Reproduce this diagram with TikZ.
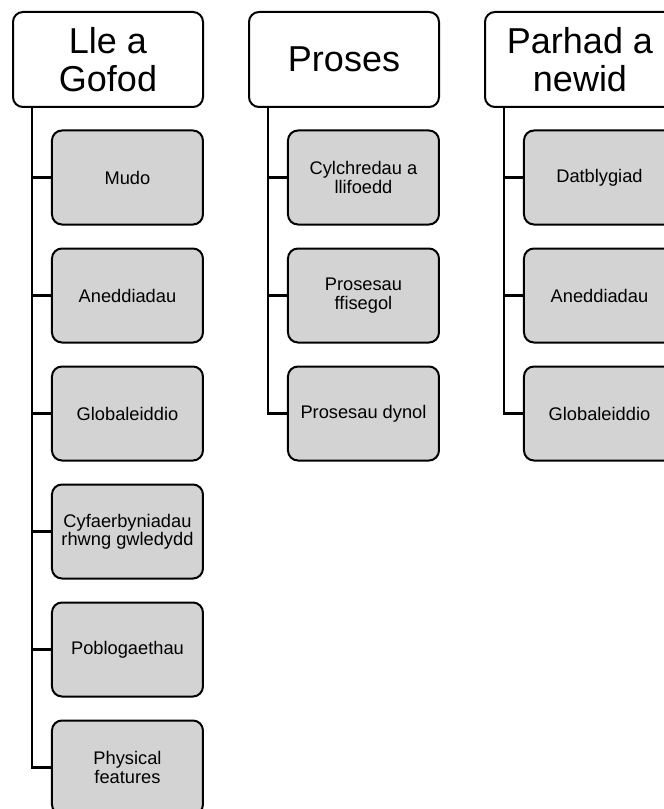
\documentclass[tikz,border=0pt]{standalone}
\usepackage{fontspec}
\setmainfont{Liberation Sans}
\usetikzlibrary{positioning}
\definecolor{boxgray}{RGB}{211,211,211}

\begin{document}
\begin{tikzpicture}
  [
  x=0.75pt, y=-0.75pt,
  node distance = 88.5pt, on grid,
  topic/.style={draw, line width=1.5pt, fill=white, rounded corners=7.5pt, align=center,
    minimum width=142.5pt, minimum height=71.25pt, inner sep=0pt,
    font=\fontsize{27}{28.5}\selectfont},
  subtopic/.style={draw, line width=1.5pt, fill=boxgray, rounded corners=7.5pt, align=center,
    minimum width=113.25pt, minimum height=70.5pt, inner sep=0pt,
    font=\fontsize{13.7}{13.8}\selectfont},
  link/.style={line width=1.7pt}
  ]
  \useasboundingbox (0,0) rectangle (663,809);

  \node[topic]                     (lle)      at (108,59.5)                  {Lle a\\Gofod};
  \node[topic]                     (proses)   [right=177pt of lle]           {Proses};
  \node[topic]                     (parhad)   [right=177pt of proses]        {Parhad a\\newid};

  % Lle a Gofod
  \node[subtopic]                  (mudo)     [below=of lle, xshift=14.6pt]  {Mudo};
  \node[subtopic]                  (aned)     [below=of mudo]                {Aneddiadau};
  \node[subtopic]                  (glob)     [below=of aned]                {Globaleiddio};
  \node[subtopic]                  (cyfaer)   [below=of glob]                {Cyfaerbyniadau\\rhwng gwledydd};
  \node[subtopic]                  (poblog)   [below=of cyfaer]              {Poblogaethau};
  \node[subtopic]                  (phys)     [below=of poblog]              {Physical\\features};

  % Proses
  \node[subtopic]                  (cylch)    [below=of proses, xshift=14.6pt] {Cylchredau a\\llifoedd};
  \node[subtopic]                  (ffis)     [below=of cylch]               {Prosesau\\ffisegol};
  \node[subtopic]                  (dynol)    [below=of ffis]                {Prosesau dynol};

  % Parhad a newid
  \node[subtopic]                  (datb)     [below=of parhad, xshift=14.6pt] {Datblygiad};
  \node[subtopic]                  (aned2)    [below=of datb]                {Aneddiadau};
  \node[subtopic]                  (glob2)    [below=of aned2]               {Globaleiddio};

  \foreach \c in {mudo, aned, glob, cyfaer, poblog, phys}
    \draw[link] ([xshift=15pt]lle.south west) |- (\c.west);
  \foreach \c in {cylch, ffis, dynol}
    \draw[link] ([xshift=15pt]proses.south west) |- (\c.west);
  \foreach \c in {datb, aned2, glob2}
    \draw[link] ([xshift=15pt]parhad.south west) |- (\c.west);
\end{tikzpicture}
\end{document}
